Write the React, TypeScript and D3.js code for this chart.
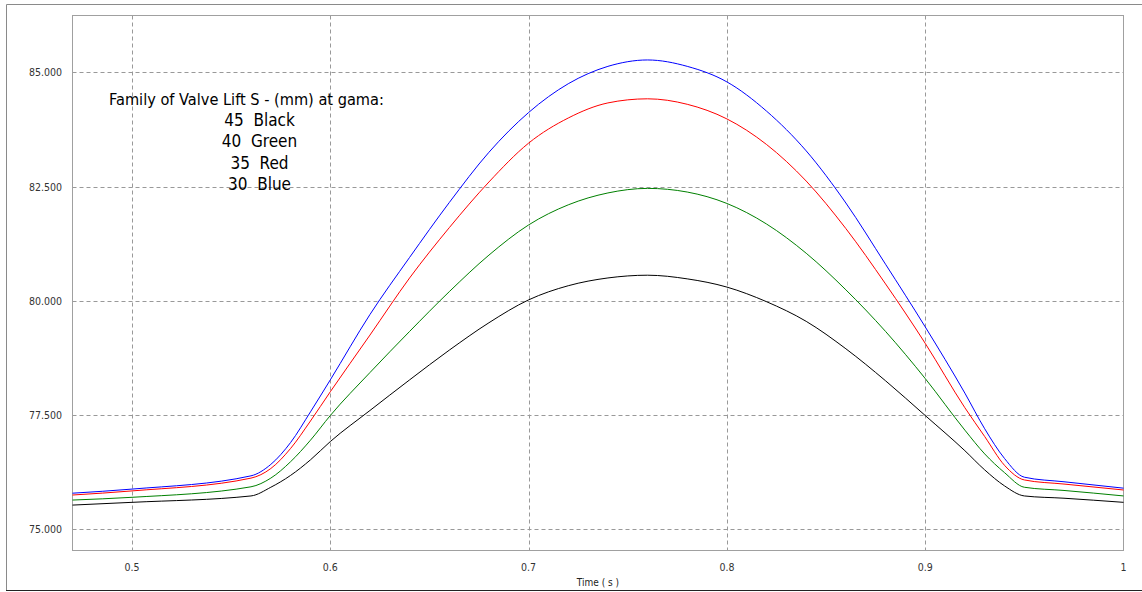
import React from "react";
import * as d3 from "d3";

const times = [0.47, 0.5, 0.56, 0.57, 0.58, 0.59, 0.6, 0.62, 0.64, 0.66, 0.68, 0.7, 0.72, 0.74, 0.76, 0.78, 0.8, 0.82, 0.84, 0.86, 0.88, 0.9, 0.92, 0.93, 0.94, 0.95, 0.97, 1.0];

const blue30 = [75.79, 75.88, 76.17, 76.42, 76.9, 77.57, 78.27, 79.7, 80.95, 82.15, 83.25, 84.12, 84.75, 85.13, 85.27, 85.13, 84.79, 84.15, 83.28, 82.14, 80.8, 79.43, 77.98, 77.2, 76.55, 76.14, 76.04, 75.9];
const red35 = [75.75, 75.84, 76.12, 76.33, 76.77, 77.37, 78.01, 79.25, 80.5, 81.6, 82.6, 83.45, 84.0, 84.33, 84.42, 84.3, 83.98, 83.42, 82.62, 81.58, 80.37, 79.07, 77.66, 77.03, 76.4, 76.08, 75.99, 75.86];
const green40 = [75.64, 75.7, 75.93, 76.12, 76.48, 76.95, 77.49, 78.43, 79.33, 80.2, 81.0, 81.66, 82.1, 82.36, 82.46, 82.38, 82.13, 81.68, 81.04, 80.24, 79.33, 78.3, 77.17, 76.65, 76.24, 75.92, 75.85, 75.73];
const black45 = [75.53, 75.59, 75.73, 75.92, 76.18, 76.52, 76.92, 77.6, 78.27, 78.92, 79.52, 80.02, 80.33, 80.5, 80.56, 80.48, 80.3, 79.98, 79.55, 78.95, 78.25, 77.49, 76.72, 76.3, 75.95, 75.73, 75.68, 75.59];

const xTicks = [0.5, 0.6, 0.7, 0.8, 0.9, 1.0];
const xTickLabels = ["0.5", "0.6", "0.7", "0.8", "0.9", "1"];
const yTicks = [75, 77.5, 80, 82.5, 85];
const yTickLabels = ["75.000", "77.500", "80.000", "82.500", "85.000"];

const legendTitle = "Family of Valve Lift S - (mm) at gama:";
const legendLines = ["45  Black", "40  Green", "35  Red", "30  Blue"];

const xAxisTitle = "Time ( s )";

const series = [
  { name: "45", values: black45, color: "#000000" },
  { name: "40", values: green40, color: "#008000" },
  { name: "35", values: red35, color: "#ff0000" },
  { name: "30", values: blue30, color: "#0000ff" },
];

export default function App() {
  const W = 1142;
  const H = 592;
  const plotL = 72.5;
  const plotR = 1123.5;
  const plotT = 15.5;
  const plotB = 550.5;

  const x = d3.scaleLinear().domain([0.5, 1.0]).range([132, 1123.5]);
  const y = d3.scaleLinear().domain([75, 85]).range([529.3, 72.3]);

  const line = d3
    .line<number>()
    .x((_, i) => x(times[i]))
    .y((d) => y(d))
    .curve(d3.curveMonotoneX);

  const tickFont = "Tahoma, 'DejaVu Sans Condensed', 'DejaVu Sans', sans-serif";

  return (
    <svg
      width={W}
      height={H}
      style={{ position: "absolute", left: 0, top: 0, background: "#fff" }}
    >
      <rect x={0} y={0} width={W} height={H} fill="#fff" />
      {/* outer frame */}
      <line x1={6.5} y1={4.5} x2={W} y2={4.5} stroke="#8a8a8a" />
      <line x1={6.5} y1={4.5} x2={6.5} y2={590} stroke="#8a8a8a" />
      <line x1={6} y1={590.5} x2={W} y2={590.5} stroke="#222" />

      {/* grid */}
      {xTicks.map((t) =>
        x(t) < plotR - 1 ? (
          <line
            key={"gx" + t}
            x1={Math.round(x(t)) + 0.5}
            x2={Math.round(x(t)) + 0.5}
            y1={plotT}
            y2={plotB}
            stroke="#999"
            strokeDasharray="4,3"
          />
        ) : null
      )}
      {yTicks.map((v) => (
        <line
          key={"gy" + v}
          x1={plotL}
          x2={plotR}
          y1={Math.round(y(v)) + 0.5}
          y2={Math.round(y(v)) + 0.5}
          stroke="#999"
          strokeDasharray="4,3"
        />
      ))}

      {/* plot border */}
      <rect
        x={plotL}
        y={plotT}
        width={plotR - plotL}
        height={plotB - plotT}
        fill="none"
        stroke="#a0a0a0"
      />

      {/* curves */}
      {series.map((s) => (
        <path
          key={s.name}
          d={line(s.values) || ""}
          fill="none"
          stroke={s.color}
          strokeWidth={1}
        />
      ))}

      {/* y tick labels */}
      {yTicks.map((v, i) => (
        <text
          key={"yl" + v}
          x={62}
          y={y(v) + 4}
          textAnchor="end"
          fontFamily={tickFont}
          fontSize={10.5}
          fill="#333"
        >
          {yTickLabels[i]}
        </text>
      ))}

      {/* x tick labels */}
      {xTicks.map((t, i) => (
        <text
          key={"xl" + t}
          x={x(t)}
          y={570.5}
          textAnchor="middle"
          fontFamily={tickFont}
          fontSize={10.5}
          fill="#333"
        >
          {xTickLabels[i]}
        </text>
      ))}

      <text
        x={(plotL + plotR) / 2}
        y={586}
        textAnchor="middle"
        fontFamily={tickFont}
        fontSize={10}
        fill="#222"
      >
        {xAxisTitle}
      </text>

      {/* legend text */}
      <text
        x={246.5}
        y={105}
        textAnchor="middle"
        fontFamily={tickFont}
        fontSize={16.2}
        fill="#000"
      >
        {legendTitle}
      </text>
      {legendLines.map((l, i) => (
        <text
          key={l}
          x={259.5}
          y={126 + i * 21.3}
          textAnchor="middle"
          fontFamily={tickFont}
          fontSize={17}
          fill="#000"
          style={{ whiteSpace: "pre" }}
        >
          {l}
        </text>
      ))}
    </svg>
  );
}
